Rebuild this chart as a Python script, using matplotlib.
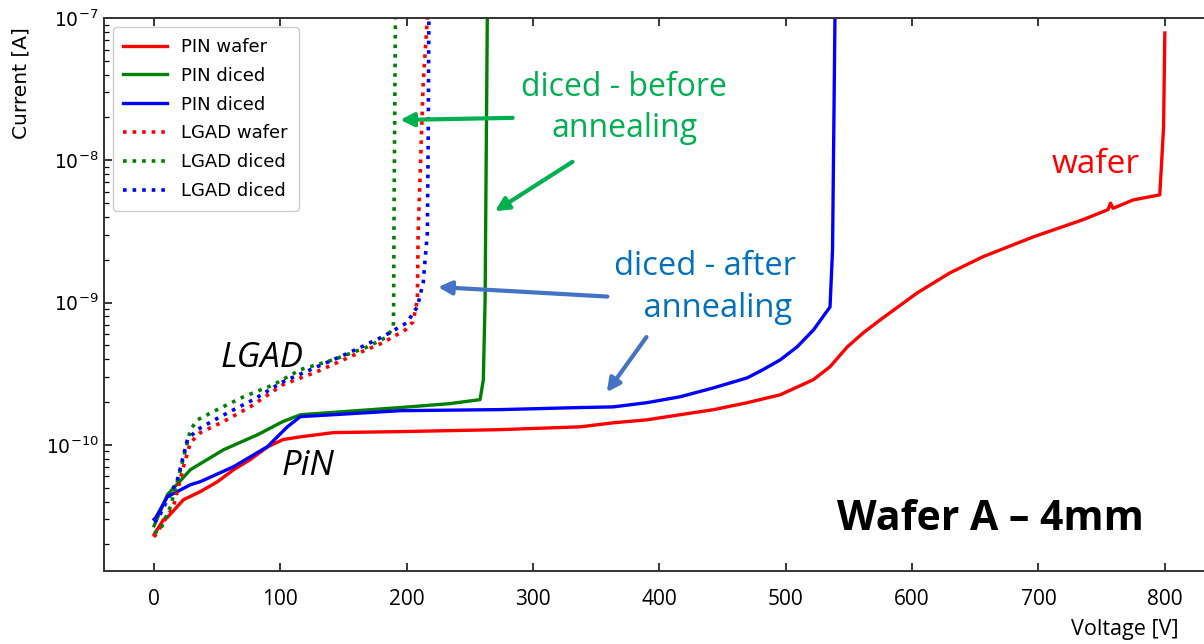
import numpy as np
import matplotlib
matplotlib.use("Agg")
import matplotlib.pyplot as plt
import matplotlib.ticker as ticker

plt.rcParams.update({
    "font.family": "DejaVu Sans",
    "xtick.direction": "in",
    "ytick.direction": "in",
    "xtick.top": True,
    "ytick.right": False,
})

# IV data: voltage [V], current [A]
pin_wafer_v = [0, 7.4, 10.6, 23.3, 36.7, 50, 63, 76, 90, 102, 116, 142, 195, 274, 337.5, 363.5,
               390, 416.5, 443, 469.5, 495.6, 521.7, 535, 548.7, 561.4, 574.8, 604, 630, 656,
               696, 735, 755, 757, 759, 775, 796, 798, 799, 800]
pin_wafer_i = [2.34e-11, 2.98e-11, 3.1e-11, 4.12e-11, 4.7e-11, 5.5e-11, 6.7e-11, 7.87e-11,
               9.7e-11, 1.09e-10, 1.14e-10, 1.22e-10, 1.24e-10, 1.28e-10, 1.34e-10, 1.43e-10,
               1.50e-10, 1.63e-10, 1.77e-10, 1.98e-10, 2.25e-10, 2.87e-10, 3.54e-10, 4.89e-10,
               6.14e-10, 7.57e-10, 1.17e-9, 1.62e-9, 2.10e-9, 2.90e-9, 3.82e-9, 4.5e-9, 5.0e-9,
               4.6e-9, 5.27e-9, 5.72e-9, 1.18e-8, 1.72e-8, 7.85e-8]

pin_diced_before_v = [0, 10.6, 28.8, 55, 82, 102, 116, 195, 234, 258, 260.6, 262, 263.8]
pin_diced_before_i = [2.7e-11, 4.47e-11, 6.7e-11, 9.25e-11, 1.18e-10, 1.46e-10, 1.63e-10,
                      1.83e-10, 1.95e-10, 2.08e-10, 2.87e-10, 1.05e-9, 1.2e-7]

pin_diced_after_v = [0, 1.3, 10.6, 28.8, 36.7, 63, 89.7, 105.5, 115.8, 142, 195, 274, 337,
                     363.5, 390, 416.5, 443, 469.5, 482, 495.6, 509, 522, 535, 537, 539]
pin_diced_after_i = [3.0e-11, 3.08e-11, 4.33e-11, 5.25e-11, 5.52e-11, 7.03e-11, 9.71e-11,
                     1.34e-10, 1.58e-10, 1.63e-10, 1.74e-10, 1.77e-10, 1.83e-10, 1.85e-10,
                     1.98e-10, 2.18e-10, 2.52e-10, 2.96e-10, 3.38e-10, 3.96e-10, 4.89e-10,
                     6.44e-10, 9.33e-10, 2.35e-9, 1.2e-7]

lgad_wafer_v = [0, 15.3, 23.3, 28.8, 36.7, 55, 76, 102, 129, 155, 181, 199, 205, 208.4, 209,
                210.8, 213, 216.3]
lgad_wafer_i = [2.25e-11, 3.69e-11, 7.03e-11, 1.04e-10, 1.22e-10, 1.46e-10, 1.85e-10, 2.65e-10,
                3.27e-10, 4.16e-10, 5.22e-10, 6.44e-10, 7.33e-10, 1.05e-9, 3.09e-9, 9.0e-9,
                3.5e-8, 1.0e-7]

lgad_diced_before_v = [0, 5, 13, 20.9, 28.8, 34.3, 50, 70.9, 94.6, 115.8, 142, 169, 184.6,
                       189.4, 189.6, 190, 191]
lgad_diced_before_i = [2.4e-11, 2.54e-11, 3.69e-11, 6.7e-11, 1.28e-10, 1.5e-10, 1.77e-10,
                       2.18e-10, 2.65e-10, 3.38e-10, 3.97e-10, 4.89e-10, 5.76e-10, 6.77e-10,
                       9.35e-10, 5.3e-9, 1.0e-7]

lgad_diced_after_v = [0, 2.7, 18.5, 26.4, 34.3, 52.5, 78.6, 102, 129, 155, 181, 200, 208.4,
                      213, 216.3, 217, 217.5]
lgad_diced_after_i = [2.89e-11, 2.98e-11, 5.7e-11, 1.09e-10, 1.28e-10, 1.58e-10, 2.08e-10,
                      2.78e-10, 3.54e-10, 4.47e-10, 5.76e-10, 7.21e-10, 9.35e-10, 1.38e-9,
                      3.09e-9, 1.56e-8, 1.0e-7]

x_ticks = [0, 100, 200, 300, 400, 500, 600, 700, 800]
y_ticks = [1e-10, 1e-9, 1e-8, 1e-7]

fig = plt.figure(figsize=(12.04, 6.44), dpi=100)
ax = fig.add_axes([0.086, 0.1134, 0.914, 0.8586])

lw = 2.4
ax.plot(pin_wafer_v, pin_wafer_i, color='red', lw=lw, label='PIN wafer')
ax.plot(pin_diced_before_v, pin_diced_before_i, color='green', lw=lw, label='PIN diced')
ax.plot(pin_diced_after_v, pin_diced_after_i, color='blue', lw=lw, label='PIN diced')
ax.plot(lgad_wafer_v, lgad_wafer_i, color='red', lw=2.6, ls=':', label='LGAD wafer')
ax.plot(lgad_diced_before_v, lgad_diced_before_i, color='green', lw=2.6, ls=':', label='LGAD diced')
ax.plot(lgad_diced_after_v, lgad_diced_after_i, color='blue', lw=2.6, ls=':', label='LGAD diced')

ax.set_yscale('log')
ax.set_xlim(-40, 831)
ax.set_ylim(1.3e-11, 1e-7)
ax.set_xticks(x_ticks)
ax.set_yticks(y_ticks)
ax.xaxis.set_minor_locator(ticker.NullLocator())
ax.yaxis.set_minor_formatter(ticker.NullFormatter())

for side in ['left', 'bottom', 'top']:
    ax.spines[side].set_linewidth(1.4)
    ax.spines[side].set_color('#333333')
ax.spines['right'].set_visible(False)
ax.tick_params(axis='x', which='major', length=6, width=1.1, pad=13, labelsize=15)
ax.tick_params(axis='y', which='major', length=6, width=1.1, labelsize=13.5)
ax.tick_params(axis='y', which='minor', length=3.5, width=0.9)
for lab in ax.get_xticklabels():
    lab.set_fontfamily('Open Sans')

ax.set_ylabel('Current [A]', fontsize=14.5)
ax.yaxis.set_label_coords(-0.066, 0.882)
ax.set_xlabel('Voltage [V]', fontsize=15.5, family='Open Sans')
ax.xaxis.set_label_coords(0.928, -0.086)

leg = ax.legend(loc='upper left', fontsize=13, handlelength=2.4, handletextpad=0.8,
                labelspacing=0.6, borderpad=0.6, framealpha=1, edgecolor='#cccccc')

# annotations
green_txt = '#00B050'
blue_txt = '#0070C0'
ann_font = 'Open Sans'
ax.text(372, 2.33e-8, 'diced - before\nannealing', color=green_txt, fontsize=23,
        family=ann_font, ha='center', va='center', linespacing=1.35)
ax.annotate('', xy=(192.6, 1.92e-8), xytext=(286, 1.99e-8),
            arrowprops=dict(arrowstyle='-|>', color=green_txt, lw=3, mutation_scale=20))
ax.annotate('', xy=(268, 4.28e-9), xytext=(333, 1.0e-8),
            arrowprops=dict(arrowstyle='-|>', color=green_txt, lw=3, mutation_scale=20))

ax.text(436, 1.27e-9, 'diced - after\n   annealing', color=blue_txt, fontsize=23.5,
        family=ann_font, ha='center', va='center', linespacing=1.35)
ax.annotate('', xy=(222.5, 1.29e-9), xytext=(361, 1.1e-9),
            arrowprops=dict(arrowstyle='-|>', color='#4472C4', lw=3, mutation_scale=20))
ax.annotate('', xy=(357, 2.26e-10), xytext=(391, 5.94e-10),
            arrowprops=dict(arrowstyle='-|>', color='#4472C4', lw=3, mutation_scale=20))

ax.text(745.6, 9.3e-9, 'wafer', color='red', fontsize=24, family=ann_font,
        ha='center', va='center')
ax.text(85.7, 4.09e-10, 'LGAD', color='black', fontsize=25, family=ann_font,
        style='italic', ha='center', va='center')
ax.text(122, 7.13e-11, 'PiN', color='black', fontsize=25, family=ann_font,
        style='italic', ha='center', va='center')
ax.text(662, 2.98e-11, 'Wafer A \u2013 4mm', color='black', fontsize=29.5, family=ann_font,
        weight='bold', ha='center', va='center')

fig.savefig('out.png', dpi=100)
